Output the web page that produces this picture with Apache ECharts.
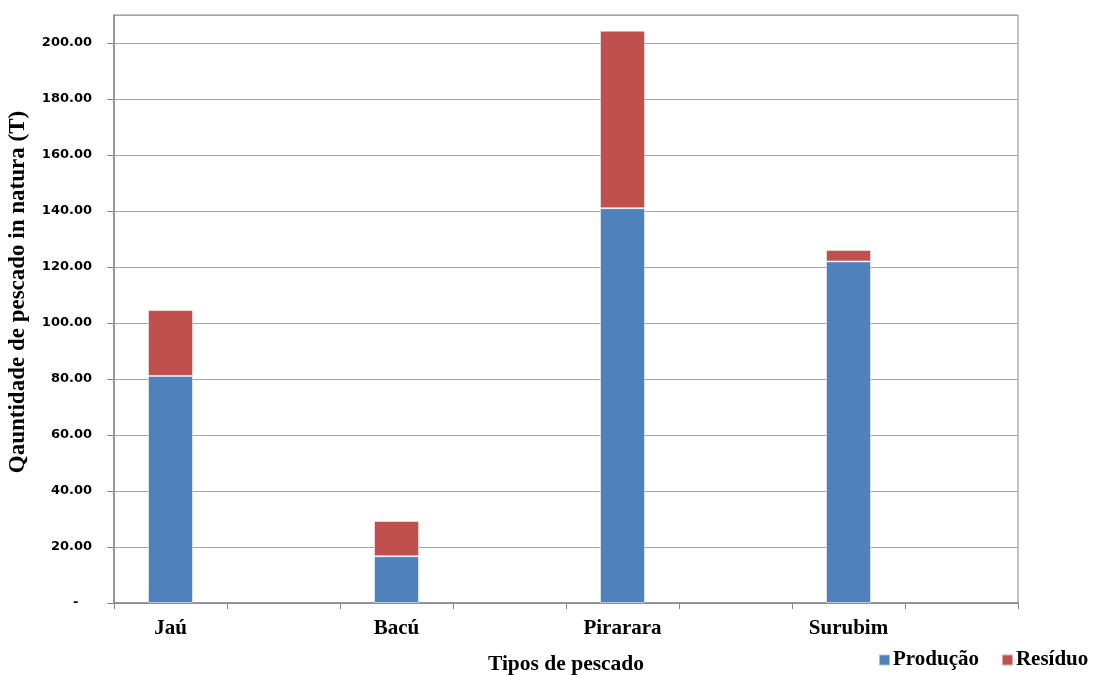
<!DOCTYPE html>
<html>
<head>
<meta charset="utf-8">
<script src="https://cdn.jsdelivr.net/npm/echarts@6/dist/echarts.min.js"></script>
<style>
  html, body { margin: 0; padding: 0; background: #fff; }
  #chart { width: 1099px; height: 675px; }
</style>
</head>
<body>
<div id="chart"></div>
<script>
// Fish types; the blank slots keep each bar in its own wide column
const categories = ['Jaú', '', 'Bacú', '', 'Pirarara', '', 'Surubim', ''];
// Quantities in tonnes
const producao = [81.1, null, 16.7, null, 141.0, null, 122.0, null];
const residuo  = [23.5, null, 12.6, null, 63.4, null, 4.1, null];
const yTicks = { min: 0, max: 210, interval: 20 };

const chart = echarts.init(document.getElementById('chart'));
const serifBold = { fontFamily: 'Liberation Serif', fontWeight: 'bold', color: '#000' };

chart.setOption({
  animation: false,
  backgroundColor: '#fff',
  grid: {
    left: 114, right: 81, top: 15, bottom: 72,
    outerBoundsMode: 'none', containLabel: false,
    show: true, borderColor: '#888', borderWidth: 1
  },
  legend: {
    data: ['Produção', 'Resíduo'],
    left: 873, top: 644,
    itemWidth: 11, itemHeight: 11, itemGap: 22,
    icon: 'rect',
    textStyle: Object.assign({ fontSize: 21, lineHeight: 22, padding: [0, 0, 0, -2] }, serifBold)
  },
  xAxis: {
    type: 'category',
    data: categories,
    name: 'Tipos de pescado',
    nameLocation: 'middle',
    nameGap: 50,
    nameTextStyle: Object.assign({ fontSize: 21.5 }, serifBold),
    axisLine: { lineStyle: { color: '#888', width: 1.5 } },
    axisTick: { show: true, length: 6, alignWithLabel: false, interval: 0, lineStyle: { color: '#888' } },
    axisLabel: Object.assign({ fontSize: 21, margin: 15, interval: 0 }, serifBold),
    splitLine: { show: false }
  },
  yAxis: {
    type: 'value',
    min: yTicks.min, max: yTicks.max, interval: yTicks.interval,
    name: 'Qauntidade de pescado in natura (T)',
    nameLocation: 'middle',
    nameGap: 84,
    nameRotate: 90,
    nameTextStyle: Object.assign({ fontSize: 23, padding: [0, 0, 0, 34] }, serifBold),
    axisLine: { show: true, lineStyle: { color: '#888', width: 1.5 } },
    axisTick: { show: true, length: 7, lineStyle: { color: '#888' } },
    axisLabel: {
      margin: 22,
      fontSize: 13, fontWeight: 'bold', fontFamily: 'DejaVu Sans', color: '#000',
      showMaxLabel: false,
      formatter: v => v === 0 ? '-   ' : v.toFixed(2)
    },
    splitLine: { lineStyle: { color: '#a6a6a6', width: 1.2 } }
  },
  series: [
    {
      name: 'Produção', type: 'bar', stack: 'total', data: producao,
      barWidth: 45,
      itemStyle: { color: '#4F81BD', borderColor: 'rgba(255,255,255,0.5)', borderWidth: 1 }
    },
    {
      name: 'Resíduo', type: 'bar', stack: 'total', data: residuo,
      barWidth: 45,
      itemStyle: { color: '#C0504D', borderColor: 'rgba(255,255,255,0.5)', borderWidth: 1 }
    }
  ]
});
</script>
</body>
</html>
